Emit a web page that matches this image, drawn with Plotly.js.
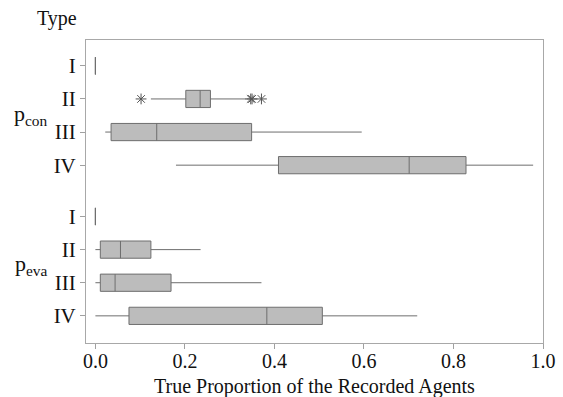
<!DOCTYPE html>
<html>
<head>
<meta charset="utf-8">
<script src="https://cdn.plot.ly/plotly-3.0.1.min.js"></script>
<style>html,body{margin:0;padding:0;background:#fff;}#chart{width:563px;height:397px;}</style>
</head>
<body>
<div id="chart"></div>
<script>
var types = ["I", "II", "III", "IV"];
var groups = ["con", "eva"];

// p_con statistics per type
var conLow    = [0.000, 0.124, 0.022, 0.180];
var conQ1     = [0.000, 0.202, 0.035, 0.409];
var conMedian = [0.000, 0.234, 0.137, 0.701];
var conQ3     = [0.000, 0.257, 0.349, 0.828];
var conHigh   = [0.000, 0.337, 0.595, 0.978];

// p_eva statistics per type
var evaLow    = [0.000, 0.000, 0.000, 0.000];
var evaQ1     = [0.000, 0.011, 0.011, 0.075];
var evaMedian = [0.000, 0.056, 0.044, 0.383];
var evaQ3     = [0.000, 0.124, 0.169, 0.507];
var evaHigh   = [0.000, 0.235, 0.371, 0.719];

// outliers of p_con type II
var conIIOutliers = [0.102, 0.347, 0.350, 0.371];

var conPos = [0, 1, 2, 3];
var evaPos = [4.55, 5.55, 6.55, 7.55];

var FONT = 'Times New Roman, Liberation Serif, serif';
var fill = '#bcbcbc', edge = '#6e6e6e';

var traces = [];
function addBoxes(pos, lo, q1, med, q3, hi) {
  for (var i = 0; i < pos.length; i++) {
    traces.push({
      type: 'box', orientation: 'h',
      y: [pos[i]], q1: [q1[i]], median: [med[i]], q3: [q3[i]],
      lowerfence: [lo[i]], upperfence: [hi[i]],
      width: 0.52, boxpoints: false, whiskerwidth: 0,
      fillcolor: fill, line: {color: edge, width: 1},
      hoverinfo: 'skip', showlegend: false
    });
  }
}
addBoxes(conPos, conLow, conQ1, conMedian, conQ3, conHigh);
addBoxes(evaPos, evaLow, evaQ1, evaMedian, evaQ3, evaHigh);

traces.push({
  type: 'scatter', mode: 'markers',
  x: conIIOutliers, y: conIIOutliers.map(function(){ return conPos[1]; }),
  marker: {symbol: 'asterisk-open', size: 9, color: '#555', line: {color: '#555', width: 1}},
  hoverinfo: 'skip', showlegend: false
});

var layout = {
  width: 563, height: 397,
  margin: {l: 86, r: 20, t: 40, b: 54},
  paper_bgcolor: '#fff', plot_bgcolor: '#fff',
  font: {family: FONT, size: 20, color: '#111'},
  xaxis: {
    range: [-0.021, 1.0],
    tickvals: [0, 0.2, 0.4, 0.6, 0.8, 1.0],
    tickformat: '.1f',
    ticks: 'outside', ticklen: 5, tickcolor: '#a0a0a0',
    ticklabelstandoff: -5,
    showline: true, mirror: true, linecolor: '#a8a8a8', linewidth: 1,
    showgrid: false, zeroline: false,
    tickfont: {family: FONT, size: 20, color: '#111'}
  },
  yaxis: {
    range: [8.37, -0.78],
    tickvals: conPos.concat(evaPos),
    ticktext: types.concat(types),
    ticks: 'outside', ticklen: 5, tickcolor: '#a0a0a0',
    showline: true, mirror: true, linecolor: '#a8a8a8', linewidth: 1,
    showgrid: false, zeroline: false,
    tickfont: {family: FONT, size: 21, color: '#111'}
  },
  annotations: [
    {text: 'True Proportion of the Recorded Agents', xref: 'paper', yref: 'paper', x: 0.5, y: -0.145, xanchor: 'center', yanchor: 'middle',
     showarrow: false, font: {family: FONT, size: 20, color: '#111'}},
    {text: 'Type', xref: 'paper', yref: 'paper', x: -0.063, y: 1.07, xanchor: 'center', yanchor: 'middle',
     showarrow: false, font: {family: FONT, size: 20, color: '#111'}},
    {text: 'p<sub>' + groups[0] + '</sub>', xref: 'paper', yref: 'y', x: -0.12, y: 1.48, xanchor: 'center', yanchor: 'middle',
     showarrow: false, font: {family: FONT, size: 22, color: '#111'}},
    {text: 'p<sub>' + groups[1] + '</sub>', xref: 'paper', yref: 'y', x: -0.12, y: 6.02, xanchor: 'center', yanchor: 'middle',
     showarrow: false, font: {family: FONT, size: 22, color: '#111'}}
  ]
};

Plotly.newPlot('chart', traces, layout, {displayModeBar: false, staticPlot: true});
</script>
</body>
</html>
